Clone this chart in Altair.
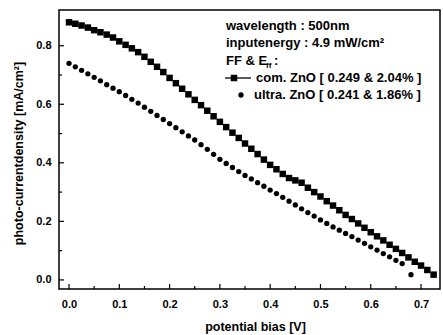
import altair as alt
import pandas as pd

# ---- data ----
com_x = [0.0, 0.0125, 0.025, 0.0375, 0.05, 0.0625, 0.075, 0.0875, 0.1, 0.1125,
         0.125, 0.1375, 0.15, 0.1625, 0.175, 0.1875, 0.2, 0.2125, 0.225, 0.2375,
         0.25, 0.2625, 0.275, 0.2875, 0.3, 0.3125, 0.325, 0.3375, 0.35, 0.3625,
         0.375, 0.3875, 0.4, 0.4125, 0.425, 0.4375, 0.45, 0.4625, 0.475, 0.4875,
         0.5, 0.5125, 0.525, 0.5375, 0.55, 0.5625, 0.575, 0.5875, 0.6, 0.6125,
         0.625, 0.6375, 0.65, 0.6625, 0.675, 0.6875, 0.7, 0.7125, 0.725]
com_y = [0.880, 0.875, 0.869, 0.862, 0.853, 0.846, 0.838, 0.828, 0.815, 0.803,
         0.791, 0.778, 0.762, 0.745, 0.728, 0.710, 0.690, 0.672, 0.653, 0.634,
         0.615, 0.597, 0.578, 0.559, 0.540, 0.522, 0.503, 0.485, 0.466, 0.448,
         0.430, 0.411, 0.393, 0.378, 0.362, 0.348, 0.340, 0.332, 0.315, 0.300,
         0.285, 0.269, 0.254, 0.238, 0.222, 0.208, 0.193, 0.178, 0.163, 0.149,
         0.135, 0.120, 0.106, 0.092, 0.077, 0.062, 0.049, 0.034, 0.018]

ultra_x = [0.0, 0.0125, 0.025, 0.0375, 0.05, 0.0625, 0.075, 0.0875, 0.1, 0.1125,
           0.125, 0.1375, 0.15, 0.1625, 0.175, 0.1875, 0.2, 0.2125, 0.225, 0.2375,
           0.25, 0.2625, 0.275, 0.2875, 0.3, 0.3125, 0.325, 0.3375, 0.35, 0.3625,
           0.375, 0.3875, 0.4, 0.4125, 0.425, 0.4375, 0.45, 0.4625, 0.475, 0.4875,
           0.5, 0.5125, 0.525, 0.5375, 0.55, 0.5625, 0.575, 0.5875, 0.6, 0.6125,
           0.625, 0.6375, 0.65, 0.6625, 0.68]
ultra_y = [0.740, 0.728, 0.716, 0.704, 0.692, 0.680, 0.667, 0.655, 0.643, 0.630,
           0.617, 0.604, 0.590, 0.576, 0.562, 0.548, 0.534, 0.520, 0.506, 0.492,
           0.478, 0.462, 0.446, 0.429, 0.412, 0.398, 0.384, 0.370, 0.357, 0.345,
           0.332, 0.320, 0.307, 0.295, 0.282, 0.269, 0.256, 0.243, 0.230, 0.218,
           0.205, 0.193, 0.181, 0.170, 0.159, 0.148, 0.136, 0.125, 0.113, 0.102,
           0.090, 0.079, 0.067, 0.056, 0.018]

x_major = [0.0, 0.1, 0.2, 0.3, 0.4, 0.5, 0.6, 0.7]
x_minor = [0.05, 0.15, 0.25, 0.35, 0.45, 0.55, 0.65]
y_major = [0.0, 0.2, 0.4, 0.6, 0.8]
y_minor = [0.1, 0.3, 0.5, 0.7]

legend_header = ["wavelength : 500nm", "inputenergy : 4.9 mW/cm\u00b2"]
legend_names = ["com. ZnO [ 0.249 & 2.04% ]", "ultra. ZnO [ 0.241 & 1.86% ]"]

FONT = "Liberation Sans"
W, H = 381, 279

xs = alt.Scale(domain=[-0.0199, 0.7377], nice=False, zero=False)
ys = alt.Scale(domain=[-0.031, 0.922], nice=False, zero=False)

com_df = pd.DataFrame({"v": com_x, "j": com_y})
ultra_df = pd.DataFrame({"v": ultra_x, "j": ultra_y})

xaxis = alt.Axis(values=x_major, format=".1f", ticks=False, domain=False, grid=False,
                 labelFont=FONT, labelFontSize=11, labelFontWeight="bold",
                 labelColor="black", labelPadding=9, title="potential bias [V]",
                 titleFont=FONT, titleFontSize=12.5, titleFontWeight="bold",
                 titleColor="black", titlePadding=11, titleX=196, titleAlign="center")
yaxis = alt.Axis(values=y_major, format=".1f", ticks=False, domain=False, grid=False,
                 labelFont=FONT, labelFontSize=11, labelFontWeight="bold",
                 labelColor="black", labelPadding=8,
                 title="photo-currentdensity [mA/cm\u00b2]",
                 titleFont=FONT, titleFontSize=12.5, titleFontWeight="bold",
                 titleColor="black", titlePadding=10, titleY=143)

com = alt.Chart(com_df).mark_point(shape="square", filled=True, size=42, color="black", opacity=1).encode(
    x=alt.X("v:Q", scale=xs, axis=xaxis),
    y=alt.Y("j:Q", scale=ys, axis=yaxis),
)
ultra = alt.Chart(ultra_df).mark_point(shape="circle", filled=True, size=28, color="black", opacity=1).encode(
    x=alt.X("v:Q", scale=xs),
    y=alt.Y("j:Q", scale=ys),
)

xmaj = alt.Chart(pd.DataFrame({"t": x_major})).mark_rule(color="black", strokeWidth=1.2).encode(
    x=alt.X("t:Q", scale=xs), y=alt.value(H), y2=alt.value(H - 5))
xmin = alt.Chart(pd.DataFrame({"t": x_minor})).mark_rule(color="black", strokeWidth=1.2).encode(
    x=alt.X("t:Q", scale=xs), y=alt.value(H), y2=alt.value(H - 3))
ymaj = alt.Chart(pd.DataFrame({"t": y_major})).mark_rule(color="black", strokeWidth=1.2).encode(
    y=alt.Y("t:Q", scale=ys), x=alt.value(0), x2=alt.value(5))
ymin = alt.Chart(pd.DataFrame({"t": y_minor})).mark_rule(color="black", strokeWidth=1.2).encode(
    y=alt.Y("t:Q", scale=ys), x=alt.value(0), x2=alt.value(3))

one = pd.DataFrame({"a": [0]})
txt = dict(font=FONT, fontSize=13, fontWeight="bold", color="black", align="left", baseline="alphabetic")

hdr = alt.Chart(pd.DataFrame({"t": legend_header, "yy": [20, 37]})).mark_text(**txt).encode(
    x=alt.value(167), y=alt.Y("yy:Q", scale=None), text="t:N")
ff1 = alt.Chart(one).mark_text(**txt).encode(x=alt.value(167), y=alt.value(55), text=alt.value("FF & E"))
ff2 = alt.Chart(one).mark_text(font=FONT, fontSize=8, fontWeight="bold", color="black", align="left",
                               baseline="alphabetic").encode(
    x=alt.value(207), y=alt.value(58), text=alt.value("ff"))
ff3 = alt.Chart(one).mark_text(**txt).encode(x=alt.value(215), y=alt.value(55), text=alt.value(":"))

names = alt.Chart(pd.DataFrame({"t": legend_names, "yy": [72, 89], "xx": [197, 195]})).mark_text(**txt).encode(
    x=alt.X("xx:Q", scale=None), y=alt.Y("yy:Q", scale=None), text="t:N")
leg_line = alt.Chart(one).mark_rule(color="black", strokeWidth=1.3).encode(
    x=alt.value(166), x2=alt.value(192), y=alt.value(68))
leg_sq = alt.Chart(one).mark_point(shape="square", filled=True, size=42, color="black", opacity=1).encode(
    x=alt.value(175), y=alt.value(68))
leg_ci = alt.Chart(one).mark_point(shape="circle", filled=True, size=28, color="black", opacity=1).encode(
    x=alt.value(182), y=alt.value(85))

chart = alt.layer(com, ultra, xmaj, xmin, ymaj, ymin, hdr, ff1, ff2, ff3, names, leg_line, leg_sq, leg_ci).properties(
    width=W, height=H,
    autosize=alt.AutoSizeParams(type="none"),
    padding={"left": 59, "top": 10, "right": 3, "bottom": 46},
    background="white",
).configure_view(stroke="black", strokeWidth=1.5)

chart.save("out.html", embed_options={"renderer": "svg", "actions": False})
